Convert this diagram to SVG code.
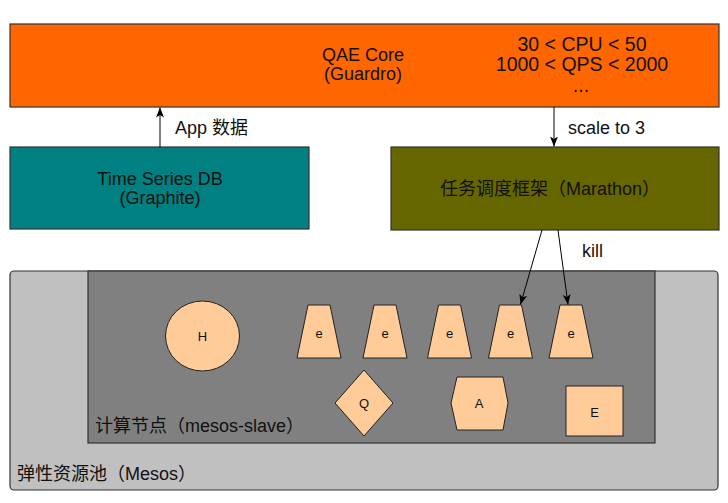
<svg xmlns="http://www.w3.org/2000/svg" width="728" height="503" viewBox="0 0 728 503">
<style>
text{font-family:"Liberation Sans","Noto Sans CJK SC",sans-serif;font-size:18px;fill:#111}
.c{text-anchor:middle}
.box{stroke:#333;stroke-width:1.2}
.sh{fill:#FFCC99;stroke:#222;stroke-width:1}
.sl{font-size:13px;text-anchor:middle}
.con{stroke:#000;stroke-width:1;fill:none;marker-end:url(#ah)}
</style>
<defs>
<marker id="ah" markerUnits="userSpaceOnUse" markerWidth="10" markerHeight="10" viewBox="0 0 10 8" refX="10" refY="4" orient="auto">
<path d="M0,0 L10,4 L0,8 L2.5,4 z" fill="#000"/>
</marker>
</defs>
<rect width="728" height="503" fill="#fff"/>
<g id="mesos">
<rect class="box" x="10" y="271" width="708" height="219" rx="4" fill="#C0C0C0"/>
<text x="17" y="480">弹性资源池（Mesos）</text>
</g>
<g id="slave">
<rect class="box" x="88" y="271" width="567" height="172" fill="#808080"/>
<text x="95" y="432">计算节点（mesos-slave）</text>
</g>
<g id="core">
<rect class="box" x="10" y="24" width="709" height="83" fill="#FF6600"/>
<text class="c" x="363" y="61">QAE Core</text>
<text class="c" x="363" y="80">(Guardro)</text>
<text class="c" x="582" y="51" style="font-size:19.5px">30 &lt; CPU &lt; 50</text>
<text class="c" x="582" y="71" style="font-size:19.5px">1000 &lt; QPS &lt; 2000</text>
<text class="c" x="581" y="92" style="font-size:19.5px">...</text>
</g>
<g id="tsdb">
<rect class="box" x="10" y="147" width="299" height="82" fill="#008080"/>
<text class="c" x="160" y="185">Time Series DB</text>
<text class="c" x="160" y="204">(Graphite)</text>
</g>
<g id="marathon">
<rect class="box" x="391" y="147" width="328" height="83" fill="#666600"/>
<text class="c" x="550" y="195">任务调度框架（Marathon）</text>
</g>
<g id="H">
<ellipse class="sh" cx="202.5" cy="336" rx="37" ry="35"/>
<text class="sl" x="202.5" y="336" dy="4.5">H</text>
</g>
<g id="e1">
<polygon class="sh" points="308,305 330,305 341,358 297,358"/>
<text class="sl" x="319" y="333" dy="4.5">e</text>
</g>
<g id="e2">
<polygon class="sh" points="374,305 396,305 407,358 363,358"/>
<text class="sl" x="385" y="333" dy="4.5">e</text>
</g>
<g id="e3">
<polygon class="sh" points="438.5,305 460.5,305 471.5,358 427.5,358"/>
<text class="sl" x="449.5" y="333" dy="4.5">e</text>
</g>
<g id="e4">
<polygon class="sh" points="499.5,305 521.5,305 532.5,358 488.5,358"/>
<text class="sl" x="510.5" y="333" dy="4.5">e</text>
</g>
<g id="e5">
<polygon class="sh" points="560,305 582,305 593,358 549,358"/>
<text class="sl" x="571" y="333" dy="4.5">e</text>
</g>
<g id="Q">
<polygon class="sh" points="364,370 393,403 364,436 335,403"/>
<text class="sl" x="364" y="403" dy="4.5">Q</text>
</g>
<g id="A">
<polygon class="sh" points="457,377 503,377 508,403 503,430 457,430 451,403"/>
<text class="sl" x="479" y="403" dy="4.5">A</text>
</g>
<g id="E">
<rect class="sh" x="566" y="386" width="57" height="50"/>
<text class="sl" x="594.5" y="412" dy="4.5">E</text>
</g>
<g id="connectors">
<line class="con" x1="160" y1="147" x2="160" y2="107.5"/>
<text x="175" y="134">App 数据</text>
<line class="con" x1="554" y1="107" x2="554" y2="146.5"/>
<text x="568" y="134">scale to 3</text>
<line class="con" x1="542" y1="230" x2="520.5" y2="304.5"/>
<line class="con" x1="558" y1="230" x2="568" y2="304.5"/>
<text x="582" y="257">kill</text>
</g>
</svg>
